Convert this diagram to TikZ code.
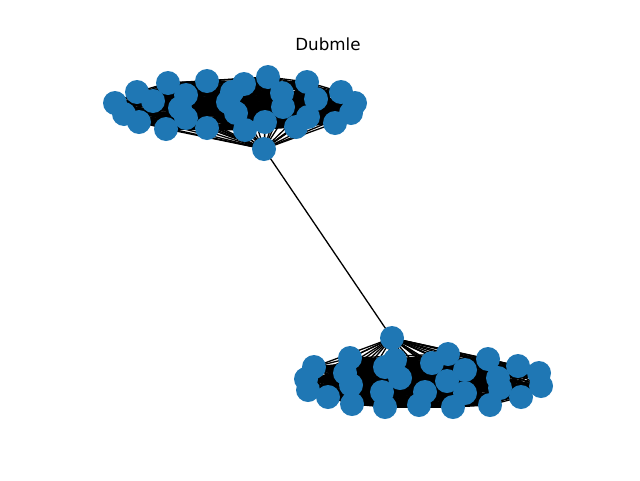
\documentclass[tikz,border=0pt]{standalone}
\usepackage{fontspec}
\setmainfont{DejaVu Sans}
\usetikzlibrary{backgrounds}
\definecolor{nodeblue}{HTML}{1F77B4}
\tikzset{
  vert/.style={circle, fill=nodeblue, draw=none, minimum size=24pt, inner sep=0pt},
  edgeline/.style={draw=black, line width=1.3pt},
  titlestyle/.style={font=\fontsize{16.7}{20}\selectfont, inner sep=0pt}
}
\begin{document}
\begin{tikzpicture}[x=1pt, y=-1pt]
\useasboundingbox (0,0) rectangle (640,480);
\node[titlestyle] (title) at (328,44) {Dubmle};
\foreach \n/\x/\y in {1/264/149, 2/115/103, 3/124/114, 4/137/92, 5/139/122, 6/153/101, 7/168/83, 8/166/129, 9/180/108, 10/186/95, 11/186/118, 12/207/81, 13/207/128, 14/228/102, 15/232/92, 16/236/113, 17/244/84, 18/245/130, 19/265/122, 20/268/77, 21/282/93, 22/283/107, 23/296/127, 24/307/82, 25/308/117, 26/316/99, 27/335/123, 28/341/92, 29/351/113, 30/355/103}
  \node[vert] (t\n) at (\x,\y) {};
\foreach \n/\x/\y in {1/392/338, 2/314/367, 3/306/379, 4/308/390, 5/328/397, 6/350/358, 7/345/373, 8/351/385, 9/352/404, 10/385/367, 11/395/360, 12/400/378, 13/382/392, 14/385/407, 15/419/405, 16/425/392, 17/432/363, 18/448/354, 19/465/370, 20/447/381, 21/465/393, 22/453/407, 23/488/359, 24/498/378, 25/500/388, 26/490/405, 27/518/366, 28/521/397, 29/539/373, 30/541/386}
  \node[vert] (b\n) at (\x,\y) {};
\begin{scope}[on background layer]
  \foreach \i in {1,...,29} {
    \pgfmathtruncatemacro\nxt{\i+1}
    \foreach \j in {\nxt,...,30} {
      \draw[edgeline] (t\i.center) -- (t\j.center);
      \draw[edgeline] (b\i.center) -- (b\j.center);
    }
  }
  \draw[edgeline] (t1.center) -- (b1.center);
\end{scope}
\end{tikzpicture}
\end{document}
